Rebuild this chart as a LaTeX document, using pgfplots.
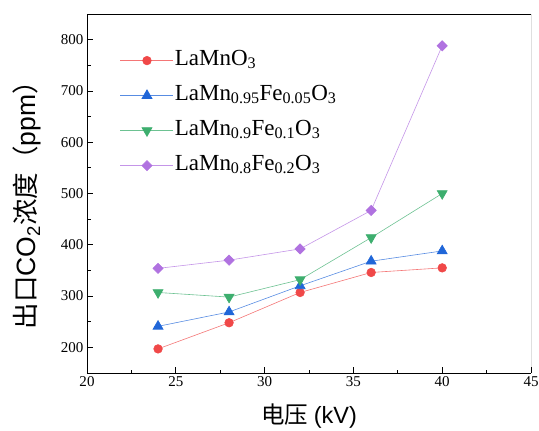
\documentclass[border=0pt]{standalone}
\usepackage{fontspec}
\setmainfont{Liberation Serif}
\newfontfamily\cjk{Noto Sans CJK SC}
\newfontfamily\arial{Liberation Sans}
\usepackage{pgfplots}
\pgfplotsset{compat=1.18}

\definecolor{cRed}{HTML}{F04848}
\definecolor{cBlue}{HTML}{2066D8}
\definecolor{cGreen}{HTML}{3DAE6E}
\definecolor{cPurple}{HTML}{B072E0}

\begin{document}
\begin{tikzpicture}
\begin{axis}[
    scale only axis,
    width=444pt, height=359pt,
    xmin=20, xmax=45, ymin=150, ymax=850,
    xtick={20,25,...,45}, ytick={200,300,...,800},
    minor x tick num=1, minor y tick num=1,
    axis x line*=bottom, axis y line*=left,
    tick align=inside,
    major tick length=6pt, minor tick length=3.5pt,
    tick style={black, line width=0.8pt},
    axis line style={line width=0.9pt},
    /pgf/number format/assume math mode=true,
    tick label style={font=\fontsize{15}{17}\selectfont},
    xlabel={{\cjk 电压} {\arial (kV)}},
    ylabel={{\cjk 出口}{\arial CO\textsubscript{2}}{\cjk 浓度（}{\arial ppm}{\cjk ）}},
    label style={font=\fontsize{23.5}{27}\selectfont},
    ylabel style={font=\fontsize{26.5}{30}\selectfont},
    xlabel style={at={(axis description cs:0.5,-0.12)}, anchor=center},
    ylabel style={at={(axis description cs:-0.135,0.485)}, anchor=center},
    legend cell align=left,
    legend style={draw=none, fill=none, inner sep=0pt,
        at={(axis description cs:0.0743,0.90)}, anchor=north west,
        font=\fontsize{23}{26}\selectfont, row sep=14pt,
        nodes={inner sep=1pt, text height=14pt, text depth=5pt}},
    legend image code/.code={
        \draw[mark repeat=2, mark phase=2] plot coordinates {(0pt,0pt) (26.5pt,0pt) (53pt,0pt)};
    },
    every axis plot/.append style={line width=0.6pt},
]
\coordinate (bl) at (rel axis cs:0,0);
\coordinate (tr) at (rel axis cs:1,1);
\draw[line width=0.9pt] (rel axis cs:0,1) -- (rel axis cs:1,1) -- (rel axis cs:1,0);

\addplot[color=cRed!75, mark=*, mark size=4.3pt, mark options={fill=cRed, draw=cRed}]
coordinates {(24,197) (28,248) (32,307) (36,346) (40,355)};
\addlegendentry{LaMnO\textsubscript{3}}

\addplot[color=cBlue!75, mark=triangle*, mark size=5.8pt, mark options={fill=cBlue, draw=cBlue}]
coordinates {(24,241) (28,269) (32,320) (36,368) (40,388)};
\addlegendentry{LaMn\textsubscript{0.95}Fe\textsubscript{0.05}O\textsubscript{3}}

\addplot[color=cGreen!75, mark=triangle*, mark size=5.8pt, mark options={fill=cGreen, draw=cGreen, rotate=180}]
coordinates {(24,307) (28,298) (32,332) (36,414) (40,500)};
\addlegendentry{LaMn\textsubscript{0.9}Fe\textsubscript{0.1}O\textsubscript{3}}

\addplot[color=cPurple!75, mark=square*, mark size=3.6pt, mark options={fill=cPurple, draw=cPurple, rotate=45}]
coordinates {(24,354) (28,370) (32,392) (36,467) (40,788)};
\addlegendentry{LaMn\textsubscript{0.8}Fe\textsubscript{0.2}O\textsubscript{3}}
\end{axis}
\pgfresetboundingbox
\path ([xshift=-87pt,yshift=-57pt]bl) rectangle ([xshift=8pt,yshift=14pt]tr);
\end{tikzpicture}
\end{document}
